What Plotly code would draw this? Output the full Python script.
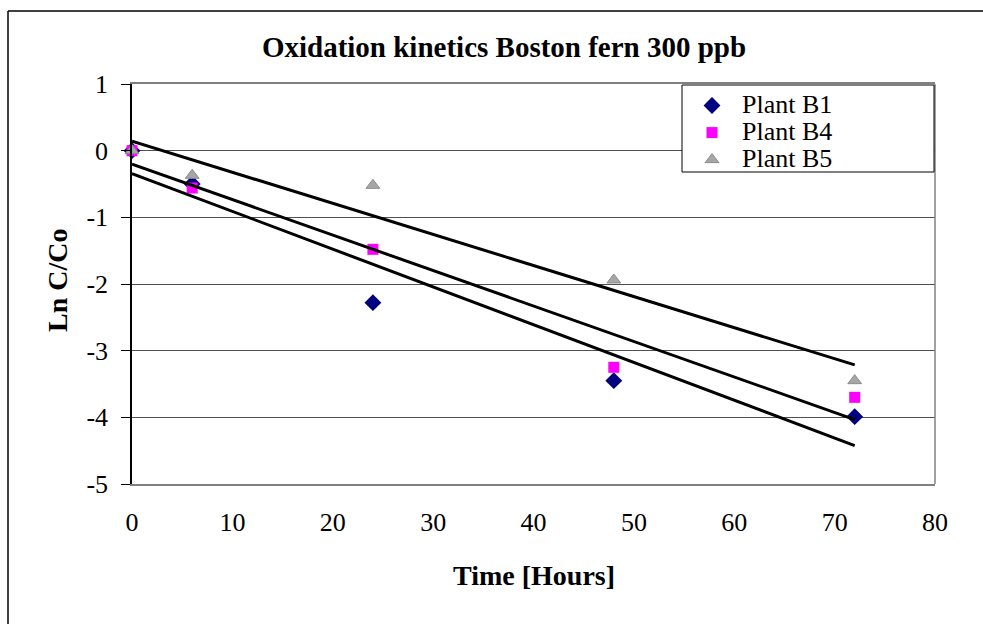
import numpy as np
import plotly.graph_objects as go

# Sampling times (hours)
time_h = [0, 6, 24, 48, 72]

# Ln C/Co for each plant
plant_b1 = [0.0, -0.50, -2.28, -3.45, -3.99]
plant_b4 = [0.0, -0.56, -1.48, -3.25, -3.70]
plant_b5 = [0.0, -0.37, -0.52, -1.94, -3.45]

series_names = ["Plant B1", "Plant B4", "Plant B5"]
y_tick_vals = [-5, -4, -3, -2, -1, 0, 1]
y_tick_labels = ["-5", "-4", "-3", "-2", "-1", "0", "1"]
x_tick_vals = [0, 10, 20, 30, 40, 50, 60, 70, 80]

FONT = "Liberation Serif, Times New Roman, serif"

styles = [
    dict(symbol="diamond", size=13, color="#000080", line=dict(width=0)),
    dict(symbol="square", size=11, color="#FF00FF", line=dict(width=0)),
    dict(symbol="triangle-up", size=12, color="#A6A6A6", line=dict(width=1, color="#8C8C8C")),
]

fig = go.Figure()

all_series = [plant_b1, plant_b4, plant_b5]
for name, vals, st in zip(series_names, all_series, styles):
    fig.add_trace(go.Scatter(
        x=time_h, y=vals, mode="markers",
        name=f'<span style="font-size:26px">{name}</span>',
        marker=st, cliponaxis=False,
    ))

# Linear trend line for each plant (least squares over the sampled range)
for vals in all_series:
    slope, intercept = np.polyfit(time_h, vals, 1)
    xs = [time_h[0], time_h[-1]]
    ys = [intercept + slope * x for x in xs]
    fig.add_trace(go.Scatter(
        x=xs, y=ys, mode="lines", showlegend=False,
        line=dict(color="black", width=3), hoverinfo="skip",
    ))

fig.update_layout(
    width=983, height=624,
    margin=dict(l=132, r=48, t=84, b=140),
    paper_bgcolor="white", plot_bgcolor="white",
    font=dict(family=FONT, size=26, color="black"),
    showlegend=True,
    title=dict(
        text="<b>Oxidation kinetics Boston fern 300 ppb</b>",
        font=dict(family=FONT, size=29, color="black"),
        x=0.4633, xref="paper", xanchor="center",
        y=1 - 47 / 624, yref="container", yanchor="middle",
    ),
    legend=dict(
        x=(682 - 132) / 803, y=0.9925, xanchor="left", yanchor="top",
        bgcolor="rgba(0,0,0,0)", borderwidth=0,
        font=dict(family=FONT, size=18.5, color="black"),
        tracegroupgap=0, itemwidth=50,
    ),
    xaxis=dict(
        range=[0, 80], tickvals=x_tick_vals, ticks="",
        showgrid=False, zeroline=False,
        showline=True, linecolor="#808080", linewidth=1.5, mirror=True,
        tickfont=dict(family=FONT, size=26),
        ticklabelstandoff=14,
    ),
    yaxis=dict(
        range=[-5, 1], tickvals=y_tick_vals, ticktext=y_tick_labels,
        ticks="outside", ticklen=9, tickcolor="black", tickwidth=1,
        showgrid=True, gridcolor="#505050", gridwidth=1,
        zeroline=False,
        showline=True, linecolor="black", linewidth=1.5,
        tickfont=dict(family=FONT, size=26),
        ticklabelstandoff=8,
    ),
    annotations=[
        dict(text="<b>Time [Hours]</b>", x=0.5006, y=1 - (575 - 84) / 400,
             xref="paper", yref="paper", xanchor="center", yanchor="middle",
             showarrow=False, font=dict(family=FONT, size=28)),
        dict(text="<b>Ln C/Co</b>", x=(57 - 132) / 803, y=1 - (281 - 84) / 400,
             xref="paper", yref="paper", xanchor="center", yanchor="middle",
             textangle=-90, showarrow=False, font=dict(family=FONT, size=28)),
    ],
    shapes=[
        # right edge of plot area
        dict(type="line", xref="paper", yref="paper", x0=1, x1=1, y0=0, y1=1,
             line=dict(color="#808080", width=1.5), layer="above"),
        # legend box
        dict(type="rect", xref="paper", yref="paper",
             x0=(682 - 132) / 803, x1=(934 - 132) / 803,
             y0=1 - (172 - 84) / 400, y1=1 - (85 - 84) / 400,
             fillcolor="white", line=dict(color="black", width=1), layer="above"),
        # chart frame
        dict(type="line", xref="paper", yref="paper",
             x0=(8 - 132) / 803, x1=1.2, y0=1 + (84 - 11) / 400, y1=1 + (84 - 11) / 400,
             line=dict(color="black", width=1.5)),
        dict(type="line", xref="paper", yref="paper",
             x0=(8 - 132) / 803, x1=(8 - 132) / 803, y0=-0.6, y1=1 + (84 - 11) / 400,
             line=dict(color="black", width=1.5)),
    ],
)

fig.write_html("out.html")
